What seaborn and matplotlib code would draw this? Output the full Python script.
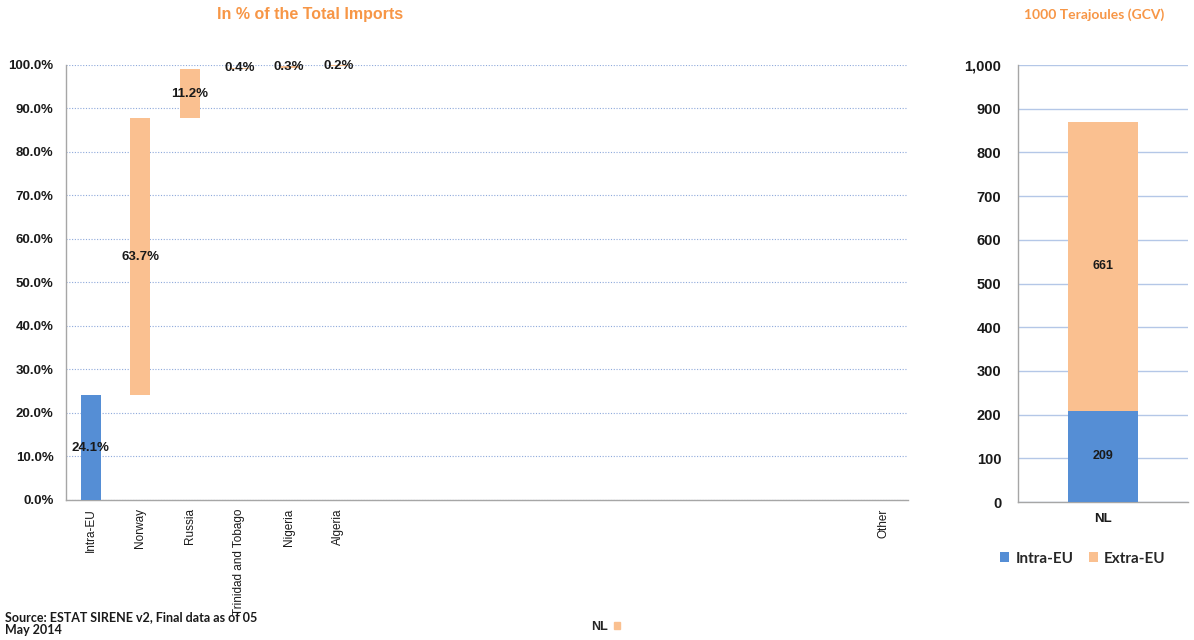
import numpy as np
import pandas as pd
import matplotlib
matplotlib.use('Agg')
import matplotlib.pyplot as plt
from matplotlib.patches import Patch
import seaborn as sns

# Data
partners = ['Intra-EU', 'Norway', 'Russia', 'Trinidad and Tobago', 'Nigeria', 'Algeria']
blank_slots = [' ' * i for i in range(1, 11)]
categories = partners + blank_slots + ['Other']
shares = [24.1, 63.7, 11.2, 0.4, 0.3, 0.2] + [0.0] * 10 + [0.1]
share_labels = ['24.1%', '63.7%', '11.2%', '0.4%', '0.3%', '0.2%'] + [''] * 11

country = ['NL']
intra_eu = [209]
extra_eu = [661]

BLUE = '#558ED5'
ORANGE = '#FAC090'
TITLE_ORANGE = '#F79646'
TEXT = '#1a1a1a'
SPINE = '#A6A6A6'

sns.set_style('white')
plt.rcParams['font.family'] = ['Liberation Sans', 'DejaVu Sans']

fig = plt.figure(figsize=(11.94, 6.4), dpi=100)
ax1 = fig.add_axes([0.0553, 0.2188, 0.7052, 0.6797])
ax2 = fig.add_axes([0.8526, 0.2156, 0.1424, 0.6828])

# Left: waterfall of import shares
df = pd.DataFrame({'partner': categories, 'share': shares})
df['base'] = np.concatenate([[0], np.cumsum(shares)[:-1]])
sns.barplot(data=df, x='partner', y='share', order=categories, bottom=df['base'].values,
            width=0.4, color=ORANGE, saturation=1, linewidth=0, ax=ax1, zorder=3)
bar_colors = [BLUE] + [ORANGE] * (len(categories) - 1)
for patch, c in zip(ax1.patches, bar_colors):
    patch.set_facecolor(c)

for i, (lab, b, v) in enumerate(zip(share_labels, df['base'], df['share'])):
    if lab:
        ax1.text(i, b + v / 2, lab, ha='center', va='center', fontsize=9.5,
                 fontweight='bold', color=TEXT, zorder=4)

ax1.set_xlim(-0.5, len(categories) - 0.5)
ax1.set_ylim(0, 100)
ax1.set_yticks(np.arange(0, 101, 10))
ax1.set_yticklabels([f'{t:.1f}%' for t in np.arange(0, 101, 10)])
ax1.yaxis.grid(True, color='#8EA9DB', linestyle=(0, (1, 1.5)), linewidth=0.8, zorder=0)
ax1.set_axisbelow(True)
ax1.set_xlabel('')
ax1.set_ylabel('')
ax1.set_xticks(range(len(categories)))
ax1.set_xticklabels(categories, rotation=90, va='top', fontsize=8.5, color=TEXT)
ax1.set_xticks(np.arange(-0.5, len(categories), 1), minor=True)
ax1.tick_params(axis='x', which='major', length=0, pad=6)
ax1.tick_params(axis='x', which='minor', length=4, color=SPINE, direction='out')
ax1.tick_params(axis='y', length=4, color=SPINE, direction='out', labelsize=9.5,
                labelcolor=TEXT, pad=5)
for t in ax1.get_yticklabels():
    t.set_fontweight('bold')
for s in ['top', 'right']:
    ax1.spines[s].set_visible(False)
for s in ['left', 'bottom']:
    ax1.spines[s].set_color(SPINE)
    ax1.spines[s].set_linewidth(1)

# Right: stacked absolute imports
sns.barplot(x=country, y=intra_eu, color=BLUE, saturation=1, width=0.41, linewidth=0,
            ax=ax2, label='Intra-EU', zorder=3)
sns.barplot(x=country, y=extra_eu, bottom=intra_eu, color=ORANGE, saturation=1, width=0.41,
            linewidth=0, ax=ax2, label='Extra-EU', zorder=3)
ax2.text(0, intra_eu[0] / 2, str(intra_eu[0]), ha='center', va='center', fontsize=9,
         fontweight='bold', color=TEXT)
ax2.text(0, intra_eu[0] + extra_eu[0] / 2, str(extra_eu[0]), ha='center', va='center',
         fontsize=9, fontweight='bold', color=TEXT)
ax2.set_xlim(-0.5, 0.5)
ax2.set_ylim(0, 1000)
ax2.set_yticks(np.arange(0, 1001, 100))
ax2.set_yticklabels([f'{t:,}' for t in np.arange(0, 1001, 100)])
ax2.yaxis.grid(True, color='#B4C7E7', linewidth=1, zorder=0)
ax2.set_axisbelow(True)
ax2.set_xlabel('')
ax2.set_ylabel('')
ax2.set_xticks(np.array([-0.5, 0.5]), minor=True)
ax2.tick_params(axis='x', which='major', length=0, pad=8, labelsize=9.5, labelcolor=TEXT)
ax2.tick_params(axis='x', which='minor', length=4, color=SPINE, direction='out')
ax2.tick_params(axis='y', length=4, color=SPINE, direction='out', labelsize=10.5,
                labelcolor=TEXT, pad=8)
for t in ax2.get_yticklabels() + ax2.get_xticklabels():
    t.set_fontweight('bold')
for s in ['top', 'right']:
    ax2.spines[s].set_visible(False)
for s in ['left', 'bottom']:
    ax2.spines[s].set_color(SPINE)
    ax2.spines[s].set_linewidth(1)
if ax2.get_legend():
    ax2.get_legend().remove()

h, l = ax2.get_legend_handles_labels()
fig.legend(h, l, loc='center', bbox_to_anchor=(0.907, 0.127), ncol=2, frameon=False,
           handlelength=0.6, handleheight=0.6, handletextpad=0.4, columnspacing=1.0,
           prop={'family': 'Lato', 'size': 11, 'weight': 'bold'})
fig.legend([Patch(color=ORANGE)], ['NL'], loc='center', bbox_to_anchor=(0.507, 0.021),
           frameon=False, markerfirst=False, handlelength=0.5, handleheight=0.5,
           handletextpad=0.5, prop={'size': 9, 'weight': 'bold'})

# Titles and source
fig.text(310 / 1194, 1 - 15 / 640, 'In % of the Total Imports', ha='center', va='center',
         color=TITLE_ORANGE, fontsize=11.5, fontweight='bold')
fig.text(1094 / 1194, 1 - 15 / 640, '1000 Terajoules (GCV)', ha='center', va='center',
         color=TITLE_ORANGE, fontsize=10, fontweight='bold', family='Lato')
fig.text(0.004, 0.006, 'Source: ESTAT SIRENE v2, Final data as of 05\nMay 2014',
         ha='left', va='bottom', fontsize=9, color=TEXT, family='Lato', fontweight='bold',
         linespacing=1.1)

fig.savefig('out.png', dpi=100)
